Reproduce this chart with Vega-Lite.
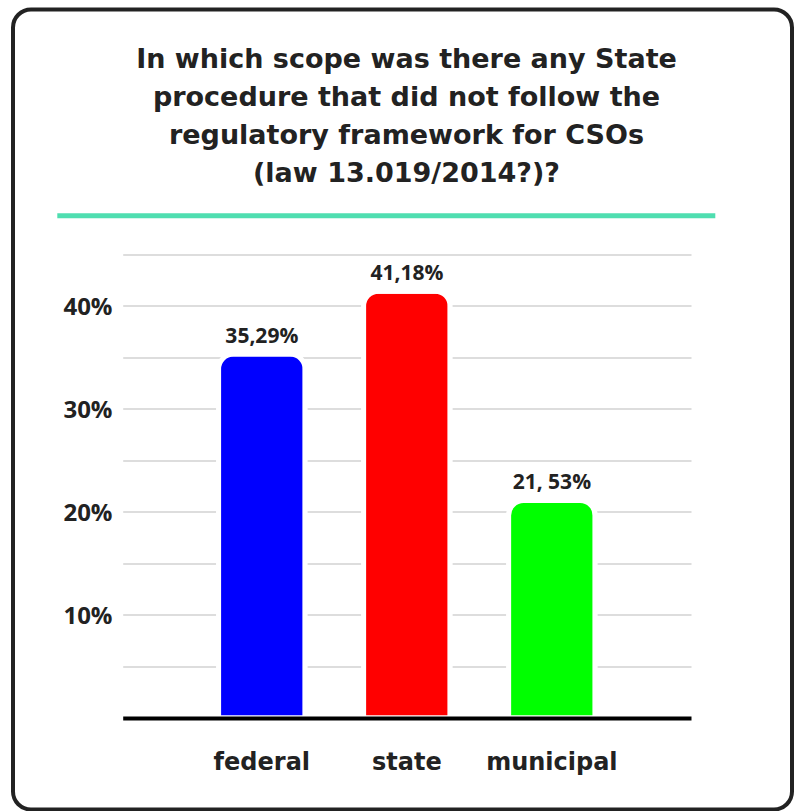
{
  "$schema": "https://vega.github.io/schema/vega-lite/v6.json",
  "width": 779,
  "height": 800,
  "autosize": "none",
  "padding": {"left": 13, "top": 9.5, "right": 2, "bottom": 1.5},
  "background": "white",
  "title": {
    "text": ["In which scope was there any State", "procedure that did not follow the", "regulatory framework for CSOs", "(law 13.019/2014?)?"],
    "anchor": "middle",
    "frame": "group",
    "offset": -178,
    "dx": 4,
    "fontSize": 27,
    "font": "DejaVu Sans",
    "fontWeight": "bold",
    "lineHeight": 38,
    "color": "#222222"
  },
  "config": {
    "view": {"stroke": "#222222", "strokeWidth": 4, "cornerRadius": 18},
    "font": "Open Sans"
  },
  "resolve": {"scale": {"x": "independent"}, "axis": {"y": "independent", "x": "independent"}},
  "layer": [
    {
      "data": {
        "values": [
          {"scope": "federal", "value": 35.3, "label": "35,29%"},
          {"scope": "state", "value": 41.4, "label": "41,18%"},
          {"scope": "municipal", "value": 21.1, "label": "21, 53%"}
        ]
      },
      "encoding": {
        "x": {
          "field": "scope",
          "type": "nominal",
          "sort": null,
          "scale": {"range": [109.7, 678], "paddingInner": 0.403, "paddingOuter": 0.661},
          "axis": {
            "orient": "bottom",
            "offset": -91.4,
            "title": null,
            "ticks": false,
            "tickSize": 0,
            "grid": false,
            "domainColor": "#000000",
            "domainWidth": 4,
            "labelPadding": 32,
            "labelFontSize": 24,
            "labelFontWeight": "bold",
            "labelColor": "#222222",
            "labelFont": "DejaVu Sans",
            "labelAngle": 0,
            "zindex": 1
          }
        },
        "y": {
          "field": "value",
          "type": "quantitative",
          "scale": {"domain": [0, 45], "range": [708.6, 244.5], "nice": false, "zero": true},
          "axis": {
            "orient": "left",
            "offset": -99,
            "title": null,
            "values": [5, 10, 15, 20, 25, 30, 35, 40, 45],
            "labelExpr": "datum.value % 10 === 0 ? datum.value + '%' : ''",
            "ticks": false,
            "tickSize": 0,
            "domain": false,
            "grid": true,
            "gridColor": "#d2d2d2",
            "gridWidth": 1.5,
            "labelPadding": 0,
            "labelOffset": 2,
            "labelFontSize": 24,
            "labelFontWeight": "bold",
            "labelColor": "#222222",
            "labelFont": "Open Sans",
            "zindex": 0
          }
        }
      },
      "layer": [
        {
          "mark": {"type": "bar", "cornerRadiusTopLeft": 15, "cornerRadiusTopRight": 15, "stroke": "white", "strokeWidth": 5},
          "encoding": {
            "color": {
              "field": "scope",
              "type": "nominal",
              "scale": {"domain": ["federal", "state", "municipal"], "range": ["#0000ff", "#ff0000", "#00ff00"]},
              "legend": null
            }
          }
        },
        {
          "mark": {"type": "text", "baseline": "alphabetic", "dy": -11, "fontSize": 21, "fontWeight": "bold", "color": "#222222", "font": "Open Sans"},
          "encoding": {"text": {"field": "label"}}
        }
      ]
    },
    {
      "data": {"values": [{}]},
      "mark": {"type": "rule", "color": "#4fdeb0", "strokeWidth": 5},
      "encoding": {
        "x": {"datum": 0, "type": "quantitative", "scale": {"domain": [0, 1], "range": [44.3, 702.3]}, "axis": null},
        "x2": {"datum": 1},
        "y": {"datum": 48.71, "type": "quantitative", "axis": null}
      }
    }
  ]
}
